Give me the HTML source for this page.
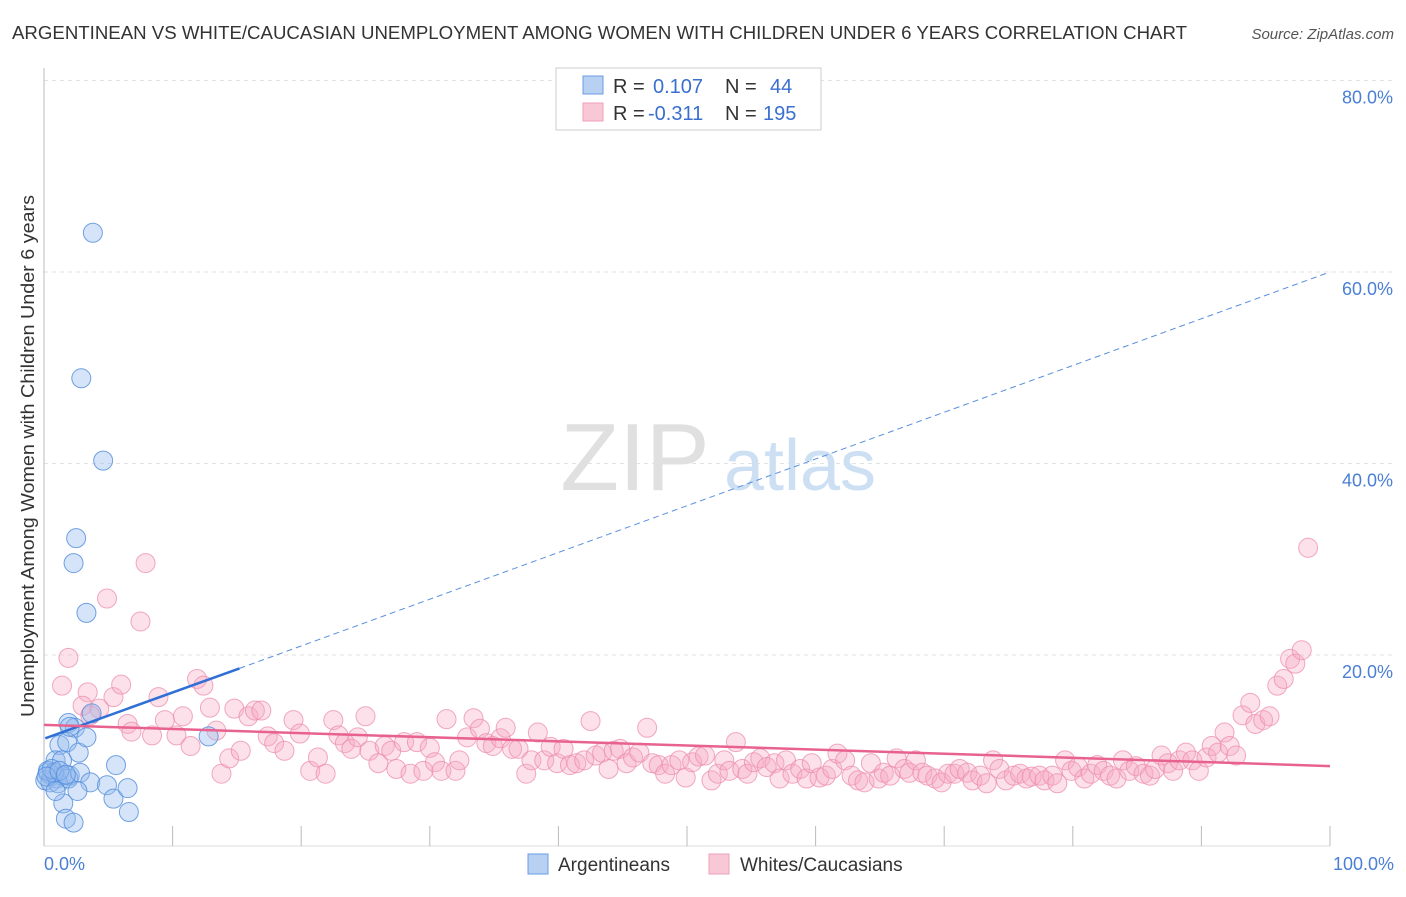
<!DOCTYPE html>
<html><head><meta charset="utf-8"><style>
body{margin:0;background:#fff;font-family:"Liberation Sans",sans-serif;}
svg text{font-family:"Liberation Sans",sans-serif;}
</style></head><body>
<svg id="chart" width="1406" height="892" viewBox="0 0 1406 892" xmlns="http://www.w3.org/2000/svg">
<text x="12" y="39" font-size="18" fill="#333" textLength="1175" lengthAdjust="spacingAndGlyphs">ARGENTINEAN VS WHITE/CAUCASIAN UNEMPLOYMENT AMONG WOMEN WITH CHILDREN UNDER 6 YEARS CORRELATION CHART</text>
<text x="1394" y="39" font-size="15" fill="#555" text-anchor="end" font-style="italic">Source: ZipAtlas.com</text>
<g id="grid"></g>
<g><text x="635" y="490" font-size="96" fill="#e0e0e0" text-anchor="middle" font-family="Liberation Serif">ZIP</text><text x="800" y="490" font-size="72" fill="#cddff3" text-anchor="middle">atlas</text></g>
<line x1="44" y1="68" x2="44" y2="846" stroke="#bbb"/>
<line x1="44" y1="846" x2="1330" y2="846" stroke="#ddd"/>
<g id="ticks"></g>
<g id="pink"></g><g id="blue"></g><g id="lines"></g>
<text transform="translate(34,456) rotate(-90)" font-size="18" fill="#333" text-anchor="middle" textLength="522" lengthAdjust="spacingAndGlyphs">Unemployment Among Women with Children Under 6 years</text>
<text x="44" y="870" font-size="18" fill="#4a7fd4">0.0%</text>
<text x="1394" y="870" font-size="18" fill="#4a7fd4" text-anchor="end">100.0%</text>
<g>
<rect x="556" y="68" width="265" height="62" fill="#fff" stroke="#ccc"/>
<rect x="583" y="76" width="20" height="18" fill="#b8d0f2" stroke="#6a9be0"/>
<rect x="583" y="103" width="20" height="18" fill="#f8c8d6" stroke="#f0a0b8"/>
<text x="613" y="93" font-size="20" fill="#333">R =</text>
<text x="653" y="93" font-size="20" fill="#3a6fd0">0.107</text>
<text x="725" y="93" font-size="20" fill="#333">N =</text>
<text x="770" y="93" font-size="20" fill="#3a6fd0">44</text>
<text x="613" y="120" font-size="20" fill="#333">R =</text>
<text x="648" y="120" font-size="20" fill="#3a6fd0">-0.311</text>
<text x="725" y="120" font-size="20" fill="#333">N =</text>
<text x="763" y="120" font-size="20" fill="#3a6fd0">195</text>
</g>
<g><rect x="528" y="854" width="20" height="20" fill="#b8d0f2" stroke="#6a9be0"/><text x="558" y="871" font-size="19" fill="#333">Argentineans</text></g>
<g><rect x="709" y="854" width="20" height="20" fill="#f8c8d6" stroke="#f0a0b8"/><text x="740" y="871" font-size="19" fill="#333">Whites/Caucasians</text></g>
</svg>
<script>
const yTicks=[20,40,60,80];
const yTickLabels=["20.0%","40.0%","60.0%","80.0%"];
const xTicks=[0,10,20,30,40,50,60,70,80,90,100];
const blueX=[3.8,2.9,4.6,2.5,2.3,3.3,1.9,2.4,1.2,1.8,2.7,3.3,3.7,12.8,0.9,1.4,0.3,0.6,1.0,1.4,2.0,0.1,0.5,1.1,1.9,2.8,3.6,4.9,5.6,2.6,5.4,6.5,1.5,1.7,2.3,6.6,0.3,0.8,0.6,0.2,1.2,1.7,0.9,2.0];
const blueY=[64.1,48.9,40.3,32.2,29.6,24.4,12.9,12.4,10.6,10.9,9.8,11.4,13.9,11.5,9.0,9.0,7.7,7.4,7.1,7.4,7.4,6.9,6.7,6.6,7.1,7.7,6.7,6.4,8.5,5.8,5.0,6.1,4.5,2.9,2.5,3.6,7.9,7.7,8.1,7.3,7.9,7.5,5.8,12.5];
const pinkX=[1.9,1.4,4.9,7.9,7.5,3.4,3.0,4.3,5.4,6.0,3.6,6.5,6.8,8.4,8.9,9.4,10.3,10.8,11.4,11.9,12.4,12.9,13.4,13.8,14.4,14.8,15.3,15.9,16.4,16.9,17.4,17.9,18.7,19.4,19.9,20.7,21.3,21.9,22.5,22.9,23.4,23.9,24.4,25.0,25.3,26.0,26.5,27.0,27.4,28.0,28.5,29.0,29.5,30.0,30.4,30.9,31.3,32.0,32.3,32.9,33.4,33.9,34.4,34.9,35.5,35.9,36.4,36.9,37.5,37.9,38.4,38.9,39.4,39.9,40.4,40.9,41.4,42.0,42.5,42.9,43.4,43.9,44.3,44.8,45.3,45.8,46.3,46.9,47.3,47.8,48.3,48.8,49.4,49.9,50.4,50.9,51.4,51.9,52.4,52.9,53.3,53.8,54.3,54.7,55.2,55.7,56.2,56.8,57.2,57.7,58.2,58.8,59.3,59.7,60.3,60.8,61.3,61.7,62.3,62.8,63.3,63.8,64.3,64.9,65.3,65.8,66.3,66.9,67.3,67.8,68.3,68.7,69.3,69.8,70.3,70.8,71.2,71.8,72.2,72.8,73.3,73.8,74.3,74.8,75.4,75.9,76.4,76.8,77.4,77.8,78.4,78.8,79.4,79.9,80.4,80.9,81.4,81.9,82.4,82.9,83.4,83.9,84.4,84.9,85.5,86.0,86.4,86.9,87.4,87.8,88.3,88.8,89.3,89.8,90.4,90.8,91.3,91.8,92.2,92.7,93.2,93.8,94.2,94.8,95.3,95.9,96.4,96.9,97.3,97.8,98.3];
const pinkY=[19.7,16.8,25.9,29.6,23.5,16.1,14.7,14.4,15.6,16.9,13.7,12.8,12.0,11.6,15.6,13.2,11.6,13.6,10.5,17.5,16.8,14.5,12.1,7.6,9.2,14.4,10.0,13.6,14.2,14.2,11.5,10.8,10.0,13.2,11.8,7.9,9.3,7.6,13.2,11.6,10.8,10.2,11.4,13.6,10.0,8.7,10.5,10.0,8.1,10.9,7.6,10.9,7.9,10.3,8.8,7.9,13.3,7.9,9.0,11.4,13.4,12.3,10.8,10.5,11.3,12.4,10.2,10.2,7.6,9.0,11.9,9.0,10.4,8.7,10.2,8.5,8.7,9.0,13.1,9.5,9.8,8.1,10.0,10.2,8.7,9.3,9.8,12.4,8.7,8.5,7.6,8.5,9.0,7.2,8.8,9.4,9.5,6.9,7.6,9.0,7.9,10.9,8.1,7.6,8.8,9.2,8.3,8.7,7.1,9.0,7.6,8.1,7.1,8.7,7.2,7.4,8.1,9.7,9.0,7.4,6.9,6.7,8.7,7.1,7.7,7.4,9.2,8.1,7.7,9.0,7.7,7.4,7.1,6.7,7.6,7.6,8.1,7.7,6.9,7.4,6.6,9.0,8.1,6.9,7.4,7.6,7.1,7.3,7.4,6.9,7.4,6.6,9.0,7.9,8.3,7.1,7.6,8.5,7.9,7.4,7.1,9.0,7.9,8.4,7.6,7.4,8.1,9.5,8.7,7.9,9.0,9.8,9.0,7.9,9.3,10.5,9.8,11.9,10.5,9.5,13.7,15.0,12.8,13.2,13.6,16.8,17.5,19.6,19.1,20.5,31.2];
const blueTrend=[0.1,11.3,15.2,18.6,100,60.0];
const pinkTrend=[0,12.7,100,8.4];

const NS="http://www.w3.org/2000/svg";
const X=v=>44+v*12.86, Y=v=>846.5-v*9.575;
function mk(tag,parent,attrs){const e=document.createElementNS(NS,tag);for(const k in attrs)e.setAttribute(k,attrs[k]);document.getElementById(parent).appendChild(e);return e;}
yTicks.forEach((t,i)=>{
 const l=mk('line','grid',{x1:44,x2:1394,y1:Y(t),y2:Y(t),stroke:'#e2e2e2','stroke-dasharray':'4,4'});
 
 
 const tx=mk('text','grid',{x:1393,y:Y(t)+23,'font-size':18,fill:'#4a7fd4','text-anchor':'end'});
 tx.textContent=yTickLabels[i];
 
 
});
xTicks.forEach(t=>{
 const l=mk('line','ticks',{x1:X(t),x2:X(t),y1:826,y2:846,stroke:'#bbb'});
 
 
});
pinkX.forEach((v,i)=>{
 const c=mk('circle','pink',{cx:X(v),cy:Y(pinkY[i]),r:9.5,fill:'rgba(246,170,196,0.35)',stroke:'rgba(236,140,172,0.75)','stroke-width':1});
 
 
});
blueX.forEach((v,i)=>{
 const c=mk('circle','blue',{cx:X(v),cy:Y(blueY[i]),r:9.5,fill:'rgba(150,188,238,0.4)',stroke:'rgba(80,140,220,0.8)','stroke-width':1});
 
 
});
let l1=mk('line','lines',{x1:X(blueTrend[0]),y1:Y(blueTrend[1]),x2:X(blueTrend[2]),y2:Y(blueTrend[3]),stroke:'#2f6fd6','stroke-width':2.5});


let l2=mk('line','lines',{x1:X(blueTrend[2]),y1:Y(blueTrend[3]),x2:X(blueTrend[4]),y2:Y(blueTrend[5]),stroke:'#5a8fe0','stroke-width':1,'stroke-dasharray':'6,4'});


let l3=mk('line','lines',{x1:X(pinkTrend[0]),y1:Y(pinkTrend[1]),x2:X(pinkTrend[2]),y2:Y(pinkTrend[3]),stroke:'#e8628f','stroke-width':2.5});


</script>
</body></html>
